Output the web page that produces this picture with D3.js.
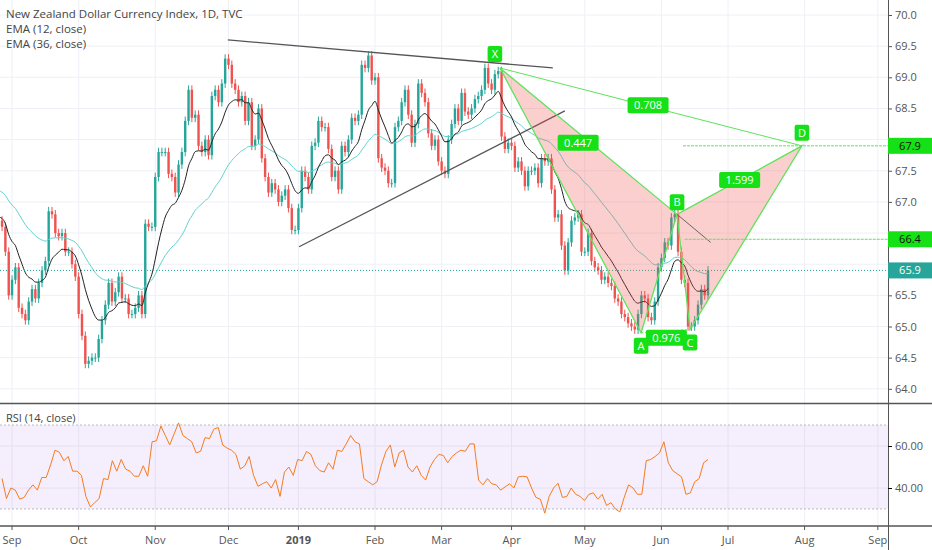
<!DOCTYPE html>
<html><head><meta charset="utf-8">
<script src="https://cdn.jsdelivr.net/npm/d3@7"></script>
<style>body{margin:0;background:#fff}svg{display:block;font-family:"Open Sans",sans-serif}</style>
</head><body>
<svg id="c" width="932" height="550"></svg>
<script>
// daily closes, one per weekday starting Mon 27 Aug 2018
const closes = [66.6,66.7,66.6,66.2,65.5,65.75,65.95,65.3,65.2,65.1,65.4,65.6,65.45,65.7,65.9,66.05,66.85,66.8,66.5,66.45,
66.5,66.2,66.2,66.0,65.8,65.2,64.85,64.4,64.45,64.5,64.5,64.8,65.1,65.35,65.7,65.4,65.55,65.8,65.45,65.45,
65.2,65.2,65.3,65.5,65.2,66.65,66.6,66.6,67.4,67.8,67.8,67.8,67.45,67.4,67.15,67.6,67.8,68.3,68.8,68.35,
68.4,67.9,67.8,68.0,67.75,68.7,68.8,68.6,68.9,69.3,69.2,68.9,68.8,68.6,68.7,68.3,68.6,67.9,68.0,68.5,
67.7,67.4,67.15,67.3,67.2,67.0,67.1,67.2,66.9,66.55,66.55,66.9,67.5,67.4,67.2,67.9,67.95,68.3,68.2,68.2,
67.85,67.4,67.5,67.2,67.9,67.8,68.0,68.35,68.3,68.4,69.2,69.15,69.35,68.95,69.0,67.7,67.55,67.5,67.3,67.3,
68.2,68.3,68.6,68.8,68.4,67.95,68.25,68.9,68.75,68.6,68.1,67.9,68.0,67.65,67.5,67.45,68.0,68.25,68.5,68.3,
68.75,68.45,68.4,68.5,68.65,68.7,68.8,69.15,68.9,68.8,69.05,69.1,68.05,67.85,67.95,67.9,67.55,67.65,67.5,67.25,
67.5,67.5,67.55,67.3,67.7,67.65,67.7,67.2,66.75,66.8,66.3,65.9,66.35,66.7,66.75,66.8,66.2,66.2,66.5,66.05,
65.95,65.9,65.75,65.8,65.7,65.65,65.45,65.4,65.2,65.15,65.05,65.0,64.95,65.2,65.5,65.45,65.15,65.1,65.4,65.95,
66.1,66.35,66.3,66.75,66.8,66.2,65.75,65.7,65.0,65.0,65.1,65.35,65.6,65.5,65.9];
const firstOpen = 66.65;
const ema12Seed = 66.8, ema36Seed = 67.25;
// RSI(14), from bar 2 to the last bar
const rsi = [44.5,35,40,39,34.7,35.5,39,41.5,39,45,45,51,58,57,53,55,48,48,46,36,31,33,35,44.5,44,53,48,53.6,49,48,45.6,45.6,50.6,45.6,62,62.5,69.5,65,60.5,65.8,71,65,63.5,62,56.7,57.5,64,63.5,68,68.8,60.5,59,58,56,49,50.5,55,46,40.8,42,43,40,44,36,47.6,50,46,53.6,53,57.4,56,50.6,48.3,47.6,52,49,58,57.4,61,65,62,61,44.5,43,41.5,43,51,57.4,60.5,50,56.7,58,50,47.6,50.6,46,43.8,50,53.6,56,55.5,52,55,56.7,58,57.5,61,61,43.8,41.5,44.5,42,41.5,39,40.5,42,40,45.3,45.6,45.3,40,35.5,34.7,28,36,40,42.3,35.5,36,40,37,36,34,37,37.7,34.7,37,31.7,33,30,28.6,35.5,41.5,40,37,37,53,53.6,55,56.7,62,52,48.3,46.8,45.3,37,37.7,43,44.5,52,53.6];
const priceTicks = [64.0,64.5,65.0,65.5,66.0,66.5,67.0,67.5,68.0,68.5,69.0,69.5,70.0];
const rsiTicks = [60,40];
const monthNames = ["Jan","Feb","Mar","Apr","May","Jun","Jul","Aug","Sep","Oct","Nov","Dec"];
// harmonic pattern points [bar, price]
const patX = [151.5,69.15], patA = [193.9,64.9], patB = [204.7,66.8], patC = [208.6,64.95], patD = [242.2,67.9];
const ratios = [["0.708",[196,68.55]],["0.447",[175,67.95]],["1.599",[223.5,67.35]],["0.976",[201.5,64.82]]];
const trendUpper = [[69.8,69.6],[167.4,69.15]];
const trendLower = [[91.2,66.28],[171,68.46]];
const bLine = [[204.7,66.8],[214.8,66.35]];
const levels = [[206.5,67.9],[207,66.4]];
const lastPrice = 65.9;

const svg = d3.select("#c");
const W = 888;
const x = d3.scaleLinear().domain([0,220]).range([-4.6,728]);
const y = d3.scaleLinear().domain([64,70]).range([388.8,15]);
const ry = d3.scaleLinear().domain([40,60]).range([488,446]);

const start = new Date(2018,7,27);
const dates = [];
for (let d = new Date(start); dates.length < 270; d.setDate(d.getDate()+1)) {
  const wd = d.getDay(); if (wd!==0 && wd!==6) dates.push(new Date(d));
}
const monthStarts = [];
dates.forEach((d,i)=>{ if(i>0 && d.getMonth()!==dates[i-1].getMonth()) monthStarts.push(i); });

const defs = svg.append("defs");
defs.append("clipPath").attr("id","mc").append("rect").attr("width",W).attr("height",403);
defs.append("clipPath").attr("id","rc").append("rect").attr("y",404).attr("width",W).attr("height",122);

const grid = svg.append("g").attr("stroke","#eef0f6").attr("stroke-width",1);
monthStarts.forEach(i=>{ if(x(i)<W) grid.append("line").attr("x1",x(i)).attr("x2",x(i)).attr("y1",0).attr("y2",526); });
priceTicks.forEach(v=>grid.append("line").attr("x1",0).attr("x2",W).attr("y1",y(v)).attr("y2",y(v)));
[60,40].forEach(v=>grid.append("line").attr("x1",0).attr("x2",W).attr("y1",ry(v)).attr("y2",ry(v)));

const g = svg.append("g").attr("clip-path","url(#mc)");
const candles = closes.map((c,i)=>{ const o = i===0?firstOpen:closes[i-1]; return {i,o,c,h:Math.max(o,c)+0.07,l:Math.min(o,c)-0.07}; });
candles.forEach(d=>{
  const col = d.c>=d.o ? "#26a69a" : "#ef5350";
  g.append("line").attr("x1",x(d.i)).attr("x2",x(d.i)).attr("y1",y(d.h)).attr("y2",y(d.l)).attr("stroke",col).attr("stroke-width",1);
  g.append("rect").attr("x",x(d.i)-1.2).attr("width",2.4).attr("y",y(Math.max(d.o,d.c))).attr("height",Math.max(1,y(Math.min(d.o,d.c))-y(Math.max(d.o,d.c)))).attr("fill",col);
});
function ema(seed,n){ const k=2/(n+1); let e=seed; return closes.map(c=>(e=c*k+e*(1-k))); }
const line = d3.line().x((d,i)=>x(i)).y(d=>y(d)).curve(d3.curveMonotoneX);
g.append("path").attr("d",line(ema(ema36Seed,36))).attr("fill","none").attr("stroke","#5fd3d0").attr("stroke-width",1);
g.append("path").attr("d",line(ema(ema12Seed,12))).attr("fill","none").attr("stroke","#222").attr("stroke-width",1);

const pl = p=>[x(p[0]),y(p[1])];
[trendUpper,trendLower].forEach(t=>g.append("line").attr("x1",pl(t[0])[0]).attr("y1",pl(t[0])[1]).attr("x2",pl(t[1])[0]).attr("y2",pl(t[1])[1]).attr("stroke","#555").attr("stroke-width",1.3));
g.append("line").attr("x1",0).attr("x2",W).attr("y1",y(lastPrice)).attr("y2",y(lastPrice)).attr("stroke","#26a69a").attr("stroke-dasharray","1,2").attr("stroke-width",1);

const GRN = "#5ee35e";
const path = pts=>"M"+pts.map(pl).map(p=>p.join(",")).join("L")+"Z";
g.append("path").attr("d",path([patX,patA,patB])).attr("fill","rgba(239,83,80,0.28)").attr("stroke",GRN).attr("stroke-width",1.3);
g.append("path").attr("d",path([patB,patC,patD])).attr("fill","rgba(239,83,80,0.28)").attr("stroke",GRN).attr("stroke-width",1.3);
g.append("line").attr("x1",pl(patX)[0]).attr("y1",pl(patX)[1]).attr("x2",pl(patD)[0]).attr("y2",pl(patD)[1]).attr("stroke",GRN).attr("stroke-width",1);
g.append("line").attr("x1",pl(patA)[0]).attr("y1",pl(patA)[1]).attr("x2",pl(patC)[0]).attr("y2",pl(patC)[1]).attr("stroke",GRN).attr("stroke-dasharray","2,2");
g.append("line").attr("x1",pl(bLine[0])[0]).attr("y1",pl(bLine[0])[1]).attr("x2",pl(bLine[1])[0]).attr("y2",pl(bLine[1])[1]).attr("stroke","#666").attr("stroke-width",1);
levels.forEach(l=>g.append("line").attr("x1",x(l[0])).attr("x2",W).attr("y1",y(l[1])).attr("y2",y(l[1])).attr("stroke",GRN).attr("stroke-dasharray","3,1").attr("stroke-width",1));
function tag(txt,cx,cy){
  const w = txt.length*6.6+8;
  svg.append("rect").attr("x",cx-w/2).attr("y",cy-8).attr("width",w).attr("height",16).attr("rx",2).attr("fill","#16e016");
  svg.append("text").attr("x",cx).attr("y",cy+4).attr("text-anchor","middle").attr("font-size",11).attr("fill","#fff").text(txt);
}
ratios.forEach(r=>tag(r[0],x(r[1][0]),y(r[1][1])));
tag("X",x(patX[0])-5,y(patX[1])-14);
tag("A",x(patA[0]),y(patA[1])+13);
tag("B",x(patB[0]),y(patB[1])-12);
tag("C",x(patC[0]),y(patC[1])+13);
tag("D",x(patD[0]),y(patD[1])-13);

svg.append("rect").attr("x",0).attr("y",ry(70)).attr("width",W).attr("height",ry(30)-ry(70)).attr("fill","rgba(155,89,230,0.1)");
[70,30].forEach(v=>svg.append("line").attr("x1",0).attr("x2",W).attr("y1",ry(v)).attr("y2",ry(v)).attr("stroke","#bbb").attr("stroke-dasharray","2,2"));
const rl = d3.line().x((d,i)=>x(2+i*(212/(rsi.length-1)))).y(d=>ry(d));
svg.append("path").attr("clip-path","url(#rc)").attr("d",rl(rsi)).attr("fill","none").attr("stroke","#f57c1f").attr("stroke-width",1);

svg.append("line").attr("x1",0).attr("x2",932).attr("y1",403.5).attr("y2",403.5).attr("stroke","#555").attr("stroke-width",1.5);
svg.append("line").attr("x1",0).attr("x2",932).attr("y1",526).attr("y2",526).attr("stroke","#555").attr("stroke-width",1.5);
svg.append("line").attr("x1",W+0.5).attr("x2",W+0.5).attr("y1",0).attr("y2",550).attr("stroke","#555").attr("stroke-width",1);

const boxed = [levels[0][1],levels[1][1],lastPrice];
const shownTicks = priceTicks.filter(v=>boxed.every(b=>Math.abs(y(v)-y(b))>12));
const pa = svg.append("g").attr("transform",`translate(${W},0)`).call(d3.axisRight(y).tickValues(priceTicks).tickSize(4).tickFormat(v=>shownTicks.includes(v)?d3.format(".1f")(v):""));
pa.select(".domain").remove();
pa.selectAll("text").attr("font-size",11).attr("fill","#555").attr("font-family","Open Sans");
pa.selectAll("line").attr("stroke","#555");
const ra = svg.append("g").attr("transform",`translate(${W},0)`).call(d3.axisRight(ry).tickValues(rsiTicks).tickSize(4).tickFormat(d3.format(".2f")));
ra.select(".domain").remove();
ra.selectAll("text").attr("font-size",11).attr("fill","#555").attr("font-family","Open Sans");
function pbox(v,bg,fg){
  svg.append("rect").attr("x",W).attr("y",y(v)-8).attr("width",44).attr("height",16).attr("fill",bg);
  svg.append("text").attr("x",W+22).attr("y",y(v)+4).attr("text-anchor","middle").attr("font-size",11).attr("fill",fg).text(v.toFixed(1));
}
pbox(levels[0][1],"#16e016","#111"); pbox(levels[1][1],"#16e016","#111"); pbox(lastPrice,"#26a69a","#fff");

const ta = svg.append("g");
monthStarts.forEach(i=>{
  const px=x(i); if(px>W+5) return;
  const d=dates[i]; const jan=d.getMonth()===0;
  ta.append("line").attr("x1",px).attr("x2",px).attr("y1",526).attr("y2",530).attr("stroke","#555");
  ta.append("text").attr("x",px).attr("y",544).attr("text-anchor","middle").attr("font-size",11).attr("fill","#555")
    .attr("font-weight",jan?"bold":"normal").text(jan?d.getFullYear():monthNames[d.getMonth()]);
});

const tt = svg.append("g").attr("font-size",11.5).attr("fill","#444");
tt.append("text").attr("x",6).attr("y",18).text("New Zealand Dollar Currency Index, 1D, TVC");
tt.append("text").attr("x",6).attr("y",33).text("EMA (12, close)");
tt.append("text").attr("x",6).attr("y",48).text("EMA (36, close)");
svg.append("text").attr("x",6).attr("y",422).attr("font-size",11).attr("fill","#444").text("RSI (14, close)");
</script></body></html>
